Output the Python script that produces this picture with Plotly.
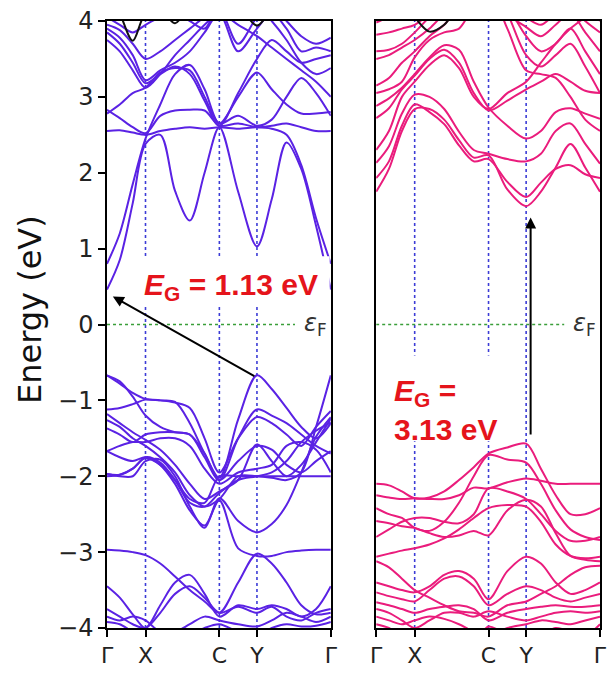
import plotly.graph_objects as go

# ---------------- data ----------------
# k-path sample positions (fractional distance along Γ-X-C-Y-Γ)
K = [0, 0.057, 0.115, 0.172, 0.238, 0.304, 0.37, 0.436, 0.502, 0.586, 0.670,
     0.736, 0.802, 0.868, 0.934, 1.0]
HS_POS = [0, 0.172, 0.502, 0.670, 1.0]
HS_LABELS = ["Γ", "X", "C", "Y", "Γ"]
Y_TICKS = [-4, -3, -2, -1, 0, 1, 2, 3, 4]
Y_TICKTEXT = ["−4", "−3", "−2", "−1", "0", "1", "2", "3", "4"]

# left panel (purple), band energies in eV at K
left_bands = [
    [0.46, 0.85, 1.6, 2.38, 2.5, 1.76, 1.37, 2.0, 2.6, 1.75, 1.03, 1.65, 2.4, 2.05, 1.3, 0.46],
    [0.8, 1.2, 1.85, 2.45, 2.9, 3.3, 3.42, 3.1, 2.65, 3.0, 3.32, 3.1, 2.9, 2.78, 2.78, 2.8],
    [2.55, 2.56, 2.53, 2.5, 2.55, 2.58, 2.6, 2.58, 2.6, 2.58, 2.6, 2.58, 2.5, 2.1, 1.4, 0.8],
    [2.83, 2.72, 2.6, 2.52, 2.75, 2.82, 2.83, 2.82, 2.62, 2.65, 2.6, 2.62, 2.65, 2.6, 2.55, 2.55],
    [2.78, 2.9, 3.05, 3.12, 3.32, 3.38, 3.35, 3.0, 2.65, 2.75, 2.62, 2.7, 3.0, 3.25, 3.05, 2.75],
    [3.75, 3.6, 3.35, 3.12, 3.3, 3.55, 3.75, 3.95, 4.1, 3.95, 3.8, 3.65, 3.5, 3.35, 3.2, 3.0],
    [3.85, 3.7, 3.45, 3.18, 3.3, 3.4, 3.3, 2.95, 2.62, 3.05, 3.5, 3.75, 3.6, 3.45, 3.5, 3.55],
    [3.9, 3.78, 3.55, 3.22, 3.35, 3.45, 3.6, 3.85, 4.1, 3.6, 3.9, 4.1, 3.9, 3.6, 3.65, 3.6],
    [3.95, 3.88, 3.7, 3.5, 3.6, 3.75, 3.9, 4.05, 4.15, 3.7, 4.05, 4.2, 4.0, 3.8, 3.7, 3.78],
    [4.05, 3.95, 3.85, 3.95, 4.05, 4.1, 4.0, 3.9, 4.2, 4.1, 4.2, 4.0, 3.75, 3.45, 3.3, 3.38],
    # valence
    [-0.67, -0.78, -0.9, -0.98, -1.0, -1.02, -1.3, -1.7, -2.02, -1.25, -0.67, -0.85, -1.1, -1.35, -1.5, -1.3],
    [-0.67, -0.75, -0.95, -1.2, -1.35, -1.42, -1.45, -1.75, -2.05, -1.5, -1.12, -1.2, -1.3, -1.45, -1.6, -1.7],
    [-1.12, -1.1, -1.05, -0.99, -1.0, -1.03, -1.1, -1.5, -1.95, -1.5, -1.22, -1.3, -1.45, -1.6, -1.35, -1.14],
    [-1.18, -1.3, -1.42, -1.52, -1.65, -1.85, -2.1, -2.3, -2.2, -2.05, -1.58, -1.8, -2.0, -1.85, -1.55, -1.24],
    [-1.26, -1.35, -1.5, -1.6, -1.75, -1.95, -2.25, -2.4, -2.3, -2.0, -2.0, -2.02, -2.05, -1.95, -1.35, -0.67],
    [-1.67, -1.75, -1.8, -1.75, -1.85, -2.1, -2.45, -2.65, -2.32, -2.95, -3.05, -3.05, -3.0, -2.98, -2.97, -2.97],
    [-1.97, -1.98, -1.9, -1.75, -1.82, -2.05, -2.35, -2.4, -2.22, -2.05, -2.0, -1.95, -1.8, -1.55, -1.4, -1.29],
    [-1.97, -2.0, -2.0, -1.8, -1.78, -2.0, -2.4, -2.68, -2.29, -2.59, -2.74, -2.63, -2.38, -1.95, -1.48, -1.22],
    [-2.0, -1.98, -1.9, -1.76, -1.85, -2.05, -2.3, -2.35, -2.0, -2.0, -2.0, -2.0, -2.0, -2.0, -2.0, -2.0],
    [-1.37, -1.45, -1.55, -1.45, -1.42, -1.42, -1.45, -1.7, -2.05, -1.8, -1.6, -1.65, -1.85, -1.95, -1.8, -1.67],
    [-1.67, -1.6, -1.55, -1.55, -1.5, -1.5, -1.6, -1.9, -2.1, -1.95, -1.9, -1.85, -1.6, -1.55, -1.65, -1.95],
    [-2.97, -2.98, -3.0, -3.04, -3.15, -3.32, -3.5, -3.65, -3.8, -3.4, -3.02, -3.15, -3.4, -3.7, -3.82, -3.8],
    [-3.45, -3.6, -3.82, -4.0, -3.7, -3.4, -3.3, -3.55, -3.85, -3.7, -3.75, -3.7, -3.75, -3.85, -3.75, -3.45],
    [-3.75, -3.85, -3.95, -4.0, -3.8, -3.55, -3.45, -3.6, -3.8, -3.72, -3.8, -3.72, -3.85, -3.9, -3.8, -3.75],
    [-3.85, -3.9, -3.85, -3.9, -4.05, -4.05, -3.95, -3.85, -3.9, -3.95, -3.98, -3.9, -3.8, -3.85, -3.92, -3.85],
    [-3.92, -3.95, -4.05, -4.1, -4.2, -4.2, -4.1, -4.0, -3.95, -4.05, -4.1, -4.0, -3.95, -3.98, -3.97, -3.92],
]
left_black = [4.4, 4.1, 3.74, 4.1, 4.15, 3.97, 4.2, 4.3, 4.3, 4.2, 3.94, 4.15, 4.3, 4.3, 4.3, 4.3]

# right panel (pink)
right_bands = [
    [1.75, 2.05, 2.55, 2.84, 2.84, 2.7, 2.43, 2.2, 2.23, 1.78, 1.56, 1.75, 2.07, 2.38, 2.07, 1.75],
    [1.93, 2.15, 2.62, 2.9, 2.8, 2.64, 2.36, 2.15, 2.18, 1.88, 1.68, 1.87, 2.05, 2.1, 1.98, 1.93],
    [2.13, 2.35, 2.78, 3.03, 3.0, 2.84, 2.54, 2.3, 2.25, 2.18, 2.15, 2.25, 2.55, 2.65, 2.38, 2.12],
    [2.3, 2.55, 3.0, 3.2, 3.42, 3.55, 3.38, 3.0, 2.84, 3.05, 3.2, 3.45, 3.7, 3.9, 4.05, 4.2],
    [2.72, 2.85, 3.1, 3.28, 3.5, 3.62, 3.45, 3.05, 2.82, 2.95, 3.1, 3.2, 3.3, 3.2, 3.08, 3.05],
    [2.88, 2.98, 3.12, 3.3, 3.52, 3.68, 3.62, 3.2, 2.86, 2.62, 2.45, 2.55, 2.8, 2.85, 2.78, 2.71],
    [3.05, 3.1, 3.2, 3.52, 3.75, 3.85, 3.9, 4.2, 4.4, 3.9, 3.35, 3.3, 3.25, 3.0, 2.7, 2.55],
    [3.15, 3.25, 3.45, 3.6, 3.8, 3.95, 4.2, 4.4, 4.5, 4.1, 3.55, 3.4, 3.55, 3.7, 3.4, 3.05],
    [3.5, 3.55, 3.65, 3.75, 3.9, 4.1, 4.3, 4.5, 4.5, 4.2, 3.8, 3.6, 3.7, 3.9, 3.6, 3.3],
    [3.6, 3.62, 3.7, 3.85, 4.05, 4.2, 4.4, 4.5, 4.5, 4.1, 3.92, 3.8, 3.95, 4.1, 3.85, 3.6],
    [3.82, 3.85, 3.9, 3.95, 4.1, 4.3, 4.5, 4.5, 4.5, 4.3, 4.05, 3.95, 4.1, 4.2, 4.0, 3.85],
    [3.98, 4.05, 4.1, 4.15, 4.3, 4.4, 4.5, 4.5, 4.5, 4.35, 4.1, 4.2, 4.3, 4.3, 4.2, 4.0],
    # valence
    [-2.1, -2.12, -2.2, -2.29, -2.28, -2.2, -2.05, -1.88, -1.7, -1.62, -1.57, -1.9, -2.25, -2.5, -2.5, -2.42],
    [-2.25, -2.28, -2.3, -2.29, -2.3, -2.3, -2.25, -2.15, -2.16, -2.08, -2.03, -2.06, -2.1, -2.1, -2.1, -2.1],
    [-2.42, -2.5, -2.55, -2.68, -2.72, -2.6, -2.35, -2.0, -1.72, -1.78, -1.82, -2.1, -2.45, -2.7, -2.8, -2.84],
    [-2.59, -2.62, -2.66, -2.68, -2.75, -2.8, -2.78, -2.72, -2.78, -2.45, -2.31, -2.4, -2.75, -3.05, -3.1, -3.12],
    [-2.8, -2.7, -2.6, -2.55, -2.55, -2.6, -2.62, -2.5, -2.16, -2.2, -2.3, -2.5, -2.72, -2.85, -2.85, -2.8],
    [-3.06, -3.02, -2.98, -2.95, -2.9, -2.82, -2.7, -2.55, -2.42, -2.38, -2.4, -2.6, -2.9, -3.05, -3.08, -3.06],
    [-3.4, -3.45, -3.5, -3.53, -3.45, -3.3, -3.25, -3.35, -3.62, -3.25, -3.06, -3.15, -3.4, -3.55, -3.5, -3.4],
    [-3.53, -3.58, -3.62, -3.65, -3.5, -3.35, -3.32, -3.45, -3.7, -3.55, -3.45, -3.5, -3.6, -3.65, -3.6, -3.55],
    [-3.12, -3.2, -3.35, -3.5, -3.6, -3.7, -3.78, -3.8, -3.85, -3.7, -3.65, -3.55, -3.45, -3.3, -3.2, -3.18],
    [-3.66, -3.7, -3.75, -3.8, -3.75, -3.72, -3.7, -3.75, -3.9, -3.8, -3.75, -3.72, -3.7, -3.72, -3.72, -3.7],
    [-3.75, -3.8, -3.9, -4.0, -3.9, -3.8, -3.8, -3.85, -3.78, -3.85, -3.9, -3.85, -3.8, -3.78, -3.8, -3.78],
    [-3.85, -3.9, -3.95, -3.9, -3.85, -3.88, -3.95, -4.05, -4.1, -4.0, -3.95, -3.9, -3.92, -3.95, -3.9, -3.85],
    [-3.95, -4.0, -4.1, -4.05, -4.1, -4.2, -4.2, -4.2, -3.98, -4.1, -4.2, -4.1, -4.0, -4.05, -4.1, -3.95],
]
right_black = [4.3, 4.3, 4.25, 4.05, 3.86, 3.95, 4.2, 4.3, 4.3, 4.3, 4.3, 4.3, 4.3, 4.3, 4.3, 4.3]

GAP_LEFT = {"from": (0.665, -0.69), "to": (0.026, 0.37), "label": "1.13 eV"}
GAP_RIGHT = {"from": (0.69, -1.47), "to": (0.69, 1.41), "label": "3.13 eV"}
FERMI_END = 0.84

# ---------------- styles ----------------
PURPLE = "#5a22e4"
PINK = "#ea1c7c"
VLINE = "#3c3cd6"
GREEN = "#3a9e3a"
RED = "#e5141b"
FONT = "DejaVu Sans"

fig = go.Figure()

def add_panel(xa, ya, bands, black, color):
    # high-symmetry dotted verticals
    for p in HS_POS[1:-1]:
        fig.add_trace(go.Scatter(x=[p, p], y=[-4, 4], mode="lines", xaxis=xa, yaxis=ya,
                                 line=dict(color=VLINE, width=1.6, dash="dot"),
                                 hoverinfo="skip", showlegend=False))
    # Fermi level
    fig.add_trace(go.Scatter(x=[0, FERMI_END], y=[0, 0], mode="lines", xaxis=xa, yaxis=ya,
                             line=dict(color=GREEN, width=1.6, dash="dot"),
                             hoverinfo="skip", showlegend=False))
    for b in bands:
        fig.add_trace(go.Scatter(x=K, y=b, mode="lines", xaxis=xa, yaxis=ya,
                                 line=dict(color=color, width=2.0, shape="spline", smoothing=0.9),
                                 hoverinfo="skip", showlegend=False))
    fig.add_trace(go.Scatter(x=K, y=black, mode="lines", xaxis=xa, yaxis=ya,
                             line=dict(color="#111111", width=2.0, shape="spline", smoothing=0.9),
                             hoverinfo="skip", showlegend=False))

add_panel("x", "y", left_bands, left_black, PURPLE)
add_panel("x2", "y2", right_bands, right_black, PINK)

axis_common = dict(showgrid=False, zeroline=False, showline=True, linecolor="black",
                   linewidth=1.5, mirror=True, ticks="outside", ticklen=7, tickwidth=1.5,
                   tickcolor="black")
xt = dict(range=[0, 1], tickvals=HS_POS, ticktext=HS_LABELS,
          tickfont=dict(family=FONT, size=22, color="#222"))

fig.update_layout(
    width=614, height=675,
    margin=dict(l=107, r=7, t=16, b=35),
    paper_bgcolor="white", plot_bgcolor="white",
    xaxis=dict(domain=[0, 0.454], **xt, **axis_common),
    xaxis2=dict(domain=[0.546, 1.0], anchor="y2", **xt, **axis_common),
    yaxis=dict(range=[-4, 4], tickvals=Y_TICKS, ticktext=Y_TICKTEXT,
               tickfont=dict(family=FONT, size=24, color="#222"), **axis_common),
    yaxis2=dict(range=[-4, 4], anchor="x2", showticklabels=False,
                **{**axis_common, "ticks": ""}),
)

# white boxes behind the gap labels
fig.add_shape(type="rect", xref="x", yref="y", x0=0.145, x1=0.995, y0=0.23, y1=0.9,
              fillcolor="white", line=dict(width=0), layer="above")
fig.add_shape(type="rect", xref="x2", yref="y2", x0=0.005, x1=0.652, y0=-1.54, y1=-0.41,
              fillcolor="white", line=dict(width=0), layer="above")

# arrows
for (xr, yr, g) in [("x", "y", GAP_LEFT), ("x2", "y2", GAP_RIGHT)]:
    fig.add_annotation(xref=xr, yref=yr, axref=xr, ayref=yr,
                       x=g["to"][0], y=g["to"][1], ax=g["from"][0], ay=g["from"][1],
                       text="", showarrow=True, arrowhead=2, arrowsize=1.1,
                       arrowwidth=2, arrowcolor="black", standoff=0)

# gap labels
fig.add_annotation(xref="x", yref="y", x=0.155, y=0.5, xanchor="left", yanchor="middle",
                   text="<b><i>E</i><sub>G</sub> = " + GAP_LEFT["label"] + "</b>", showarrow=False,
                   font=dict(family="Liberation Sans", size=30, color=RED))
fig.add_annotation(xref="x2", yref="y2", x=0.07, y=-1.13, xanchor="left", yanchor="middle",
                   align="left",
                   text="<b><i>E</i><sub>G</sub> =<br>" + GAP_RIGHT["label"] + "</b>", showarrow=False,
                   font=dict(family="Liberation Sans", size=30, color=RED))

# Fermi labels
for xr, yr in [("x", "y"), ("x2", "y2")]:
    fig.add_annotation(xref=xr, yref=yr, x=0.872, y=0.0, xanchor="left", yanchor="middle",
                       text="<i>ε</i><sub>F</sub>", showarrow=False,
                       font=dict(family=FONT, size=24, color="#333"))

# y-axis title
fig.add_annotation(xref="paper", yref="paper", x=-0.156, y=0.524, xanchor="center",
                   yanchor="middle", textangle=-90, text="Energy (eV)", showarrow=False,
                   font=dict(family=FONT, size=32, color="#111"))

# remove the default 8px page margin so the figure fills the window exactly
fig.write_html("out.html", config={"displayModeBar": False},
               post_script="document.body.style.margin='0';")
